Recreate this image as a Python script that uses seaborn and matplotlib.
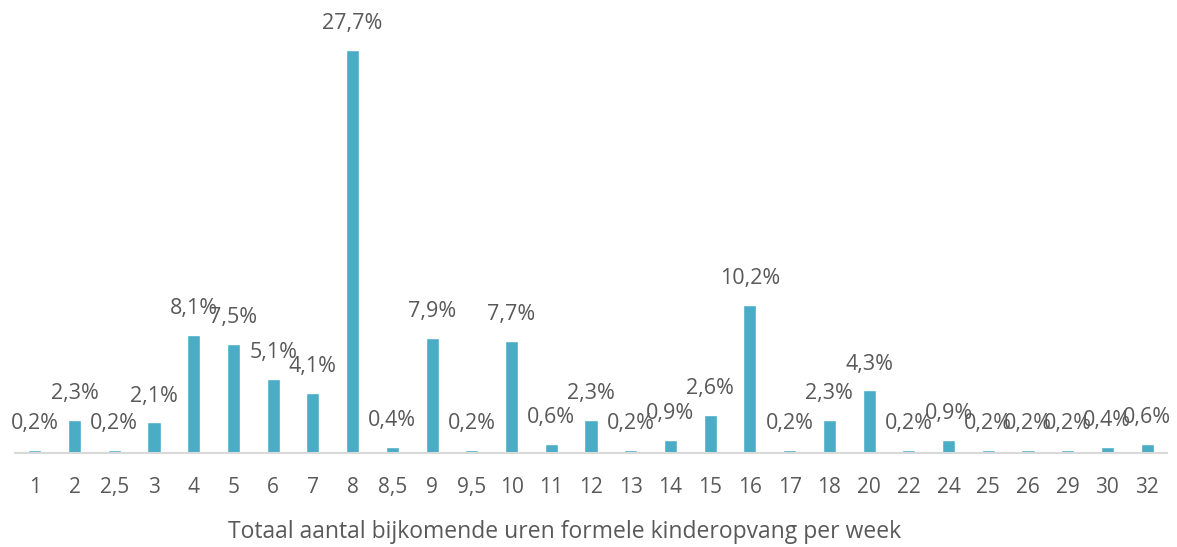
import matplotlib
matplotlib.use("Agg")
import matplotlib.pyplot as plt
import seaborn as sns
import pandas as pd

# %% Data

categories = ['1', '2', '2,5', '3', '4', '5', '6', '7', '8', '8,5', '9', '9,5', '10', '11',
              '12', '13', '14', '15', '16', '17', '18', '20', '22', '24', '25', '26', '29',
              '30', '32']
percentages = [0.2, 2.3, 0.2, 2.1, 8.1, 7.5, 5.1, 4.1, 27.7, 0.4, 7.9, 0.2, 7.7, 0.6,
               2.3, 0.2, 0.9, 2.6, 10.2, 0.2, 2.3, 4.3, 0.2, 0.9, 0.2, 0.2, 0.2,
               0.4, 0.6]

df = pd.DataFrame({'uren': categories, 'pct': percentages})

# %% Plot

sns.set_style('white')
plt.rcParams['font.family'] = ['Open Sans', 'DejaVu Sans']

text_color = '#595959'
bar_color = '#4BACC6'

fig = plt.figure(figsize=(11.77, 5.47), dpi=100)
ax = fig.add_axes([15 / 1177, 94 / 547, 1152 / 1177, 436.5 / 547])

sns.barplot(data=df, x='uren', y='pct', color=bar_color, width=0.33,
            saturation=1, ax=ax)

# Data labels
for i, v in enumerate(percentages):
    ax.annotate(f'{v:.1f}%'.replace('.', ','), (i, v), xytext=(0, 19),
                textcoords='offset points', ha='center', va='center',
                fontsize=15.5, color=text_color)

ax.set_ylim(0, 30)
ax.set_xlim(-0.5, len(categories) - 0.5)
ax.set_yticks([])
ax.set_ylabel('')
ax.set_xlabel('Totaal aantal bijkomende uren formele kinderopvang per week',
              fontsize=16.5, color=text_color, va='center')
ax.xaxis.set_label_coords(0.477, -0.181)
ax.tick_params(axis='x', length=0, pad=17, labelsize=15, colors=text_color)

for side in ['top', 'left', 'right']:
    ax.spines[side].set_visible(False)
ax.spines['bottom'].set_color('#D9D9D9')
ax.spines['bottom'].set_linewidth(1.5)

fig.savefig('out.png', dpi=100)
